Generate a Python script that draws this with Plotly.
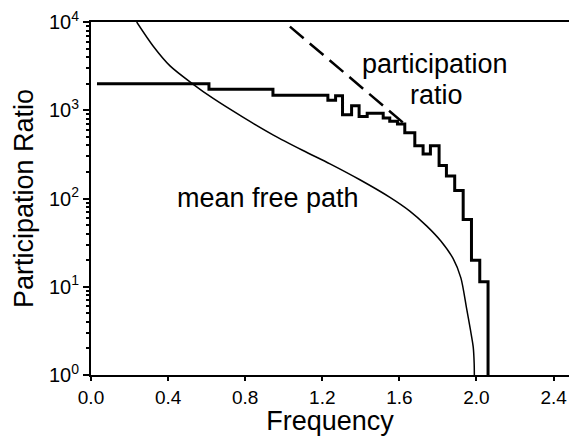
import plotly.graph_objects as go

# Participation ratio histogram (bin edges in frequency, value per bin)
pr_edges = [0.031, 0.612, 0.944, 1.229, 1.269, 1.305, 1.352, 1.391, 1.433, 1.516,
            1.550, 1.590, 1.628, 1.680, 1.723, 1.761, 1.806, 1.844, 1.887, 1.931,
            1.974, 2.017, 2.060]
pr_values = [2000, 1725, 1479, 1300, 1456, 887, 1128, 851, 926, 815, 749, 699,
             555, 395, 319, 395, 237, 180, 123, 58, 20, 11.4]

# Mean free path curve
mfp_freq = [0.237, 0.323, 0.410, 0.527, 0.634, 0.788, 0.944, 1.100, 1.240, 1.395,
            1.551, 1.654, 1.741, 1.815, 1.879, 1.919, 1.948, 1.968, 1.983, 1.988, 1.989]
mfp_values = [10000, 5320, 3185, 1995, 1360, 836, 527, 350, 247, 163,
              103, 72, 49, 33, 20.8, 12.6, 5.8, 3.3, 2.08, 1.36, 0.93]

# Dashed guide line
dash_freq = [1.032, 1.628]
dash_values = [8866, 698]

x_ticks = [0.0, 0.4, 0.8, 1.2, 1.6, 2.0, 2.4]
y_ticks = [1, 10, 100, 1000, 10000]
y_ticktext = ["10<sup>0</sup>", "10<sup>1</sup>", "10<sup>2</sup>", "10<sup>3</sup>", "10<sup>4</sup>"]
y_minor = [m * 10 ** k for k in range(4) for m in range(2, 10)]

FONT = "Liberation Sans, Arial, sans-serif"

step_x = pr_edges[:-1] + [pr_edges[-1], pr_edges[-1]]
step_y = pr_values + [pr_values[-1], 0.5]

fig = go.Figure()
fig.add_trace(go.Scatter(x=mfp_freq, y=mfp_values, mode="lines",
                         line=dict(color="black", width=1.5, shape="spline", smoothing=0.8),
                         showlegend=False))
fig.add_trace(go.Scatter(x=step_x, y=step_y, mode="lines",
                         line=dict(color="black", width=3, shape="hv"),
                         showlegend=False))
fig.add_trace(go.Scatter(x=dash_freq, y=dash_values, mode="lines",
                         line=dict(color="black", width=2.5, dash="18px,8px"),
                         showlegend=False))
# empty trace so the minor-tick axis is drawn
fig.add_trace(go.Scatter(x=[None], y=[None], yaxis="y2", mode="lines",
                         showlegend=False, hoverinfo="skip"))

fig.add_annotation(x=1.785, y=3.522, xref="x", yref="y", text="participation",
                   showarrow=False, font=dict(size=27, color="black", family=FONT))
fig.add_annotation(x=1.79, y=3.17, xref="x", yref="y", text="ratio",
                   showarrow=False, font=dict(size=27, color="black", family=FONT))
fig.add_annotation(x=0.918, y=2.003, xref="x", yref="y", text="mean free path",
                   showarrow=False, font=dict(size=27, color="black", family=FONT))

fig.update_layout(
    width=572, height=436,
    margin=dict(l=91, r=3, t=22, b=54),
    paper_bgcolor="white", plot_bgcolor="white",
    font=dict(family=FONT, color="black"),
    xaxis=dict(range=[0, 2.48], tickvals=x_ticks, tickformat=".1f",
               ticks="outside", ticklen=4, tickwidth=1.5, tickcolor="black",
               showline=True, linewidth=2, linecolor="black", mirror=True,
               showgrid=False, zeroline=False,
               tickfont=dict(size=19),
               title=dict(text="Frequency", font=dict(size=27), standoff=6)),
    yaxis=dict(type="log", range=[0, 4], tickvals=y_ticks, ticktext=y_ticktext,
               ticks="outside", ticklen=6, tickwidth=1.5, tickcolor="black",
               showline=True, linewidth=2, linecolor="black",
               showgrid=False, zeroline=False,
               tickfont=dict(size=20),
               title=dict(text="Participation Ratio", font=dict(size=27), standoff=8)),
    yaxis2=dict(type="log", range=[0, 4], overlaying="y", side="left",
                tickvals=y_minor, ticks="outside", ticklen=4, tickwidth=1.5,
                tickcolor="black", showticklabels=False, showline=False,
                showgrid=False, zeroline=False),
)

fig.write_html("out.html")
